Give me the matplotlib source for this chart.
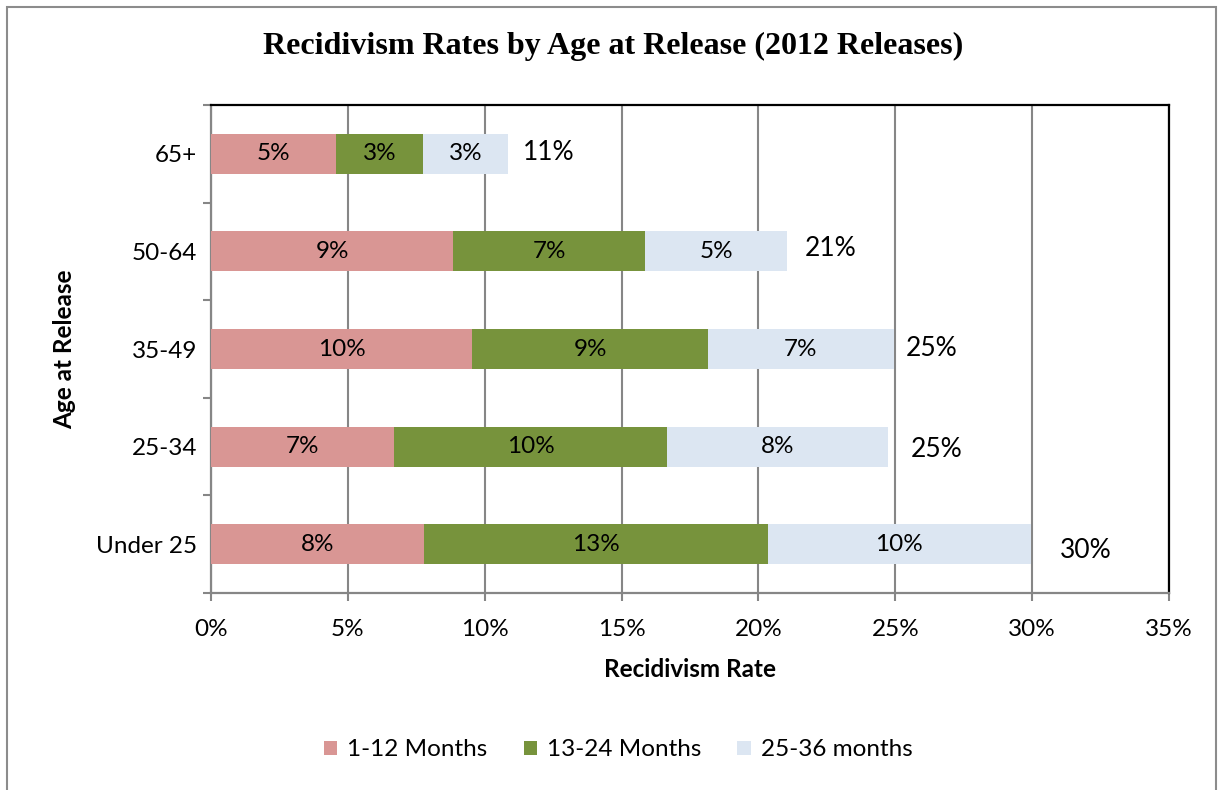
import matplotlib
matplotlib.use("Agg")
import matplotlib.pyplot as plt
from matplotlib.patches import Rectangle, Patch
import numpy as np

# ---- data ----
ages = ["Under 25", "25-34", "35-49", "50-64", "65+"]
series_names = ["1-12 Months", "13-24 Months", "25-36 months"]
m1_12 = [7.8, 6.7, 9.55, 8.85, 4.55]
m13_24 = [12.55, 9.95, 8.6, 7.0, 3.2]
m25_36 = [9.6, 8.1, 6.8, 5.2, 3.1]
xticks = [0, 5, 10, 15, 20, 25, 30, 35]
xtick_labels = ["0%", "5%", "10%", "15%", "20%", "25%", "30%", "35%"]

# layout for total labels (x pad in data units, y pad in category units)
total_xpad = [1.05, 0.8, 0.45, 0.65, 0.55]
total_ypad = [-0.06, -0.03, 0.0, 0.03, 0.01]

colors = ["#D99694", "#77933C", "#DCE6F2"]
FONT = "Lato"
FS = 17.5

plt.rcParams["font.family"] = [FONT, "DejaVu Sans"]

fig = plt.figure(figsize=(12.19, 7.90), dpi=100)
ax = fig.add_axes([211 / 1219, 1 - 593 / 790, (1169 - 211) / 1219, (593 - 105) / 790])

y = np.arange(len(ages))
left = np.zeros(len(ages))
for vals, col, name in zip([m1_12, m13_24, m25_36], colors, series_names):
    vals = np.array(vals)
    ax.barh(y, vals, left=left, height=0.41, color=col, label=name, zorder=3)
    for yi, (l, v) in enumerate(zip(left, vals)):
        ax.text(l + v / 2, yi, f"{v:.0f}%", ha="center", va="center",
                fontsize=FS, color="black", zorder=4)
    left = left + vals

totals = left
for yi, t in enumerate(totals):
    ax.text(t + total_xpad[yi], yi + total_ypad[yi], f"{t:.0f}%", ha="left",
            va="center", fontsize=19, color="black", zorder=4)

ax.set_xlim(0, 35)
ax.set_ylim(-0.5, len(ages) - 0.5)
ax.set_xticks(xticks)
ax.set_xticklabels(xtick_labels, fontsize=FS)
ax.set_yticks(y)
ax.set_yticklabels(ages, fontsize=FS)
ax.set_yticks(np.arange(-0.5, len(ages), 1.0), minor=True)
ax.tick_params(axis="y", which="major", length=0, pad=10)
ax.tick_params(axis="y", which="minor", length=6, width=1.5, color="#868686", direction="out")
ax.tick_params(axis="x", which="major", length=6, width=1.5, color="#868686", direction="out", pad=13)

ax.grid(axis="x", color="#868686", linewidth=1.5, zorder=0)
ax.set_axisbelow(True)
for s in ["left", "bottom"]:
    ax.spines[s].set_color("#868686")
    ax.spines[s].set_linewidth(1.6)
for s in ["top", "right"]:
    ax.spines[s].set_color("black")
    ax.spines[s].set_linewidth(1.6)

ax.set_xlabel("Recidivism Rate", fontsize=FS, fontweight="bold", labelpad=13)
ax.set_ylabel("Age at Release", fontsize=FS, fontweight="bold", labelpad=14)

fig.text(613 / 1219, 1 - 46 / 790, "Recidivism Rates by Age at Release (2012 Releases)",
         ha="center", va="center", fontsize=23, fontweight="bold",
         family=["Liberation Serif", "DejaVu Serif"])

handles = [Patch(facecolor=c, edgecolor="none") for c in colors]
fig.legend(handles, series_names, loc="center", bbox_to_anchor=(618 / 1219, 1 - 750 / 790),
           ncol=3, frameon=False, fontsize=FS, handlelength=0.55, handleheight=0.55,
           handletextpad=0.4, columnspacing=1.5)

fig.patches.append(Rectangle((7 / 1219, -0.02), (1216 - 7) / 1219, 1.02 - 7 / 790,
                             transform=fig.transFigure, fill=False,
                             edgecolor="#8c8c8c", linewidth=1.5))

fig.savefig("out.png", dpi=100)
